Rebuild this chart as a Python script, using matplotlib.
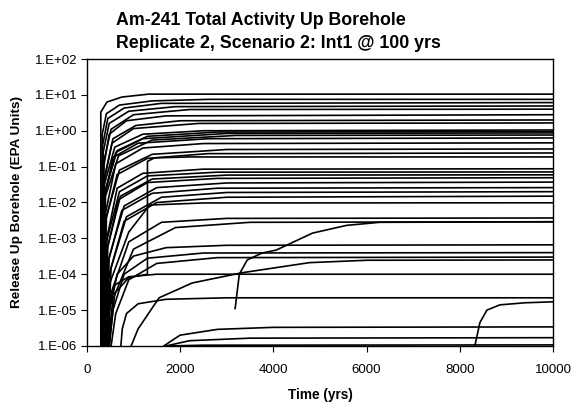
import matplotlib
matplotlib.use("Agg")
import matplotlib.pyplot as plt

plt.rcParams['font.family'] = ['Liberation Sans', 'DejaVu Sans']

title_lines = ["Am-241 Total Activity Up Borehole",
               "Replicate 2, Scenario 2: Int1 @ 100 yrs"]
x_label = "Time (yrs)"
y_label = "Release Up Borehole (EPA Units)"

x_ticks = [0, 2000, 4000, 6000, 8000, 10000]
y_ticks = [1e-6, 1e-5, 1e-4, 1e-3, 1e-2, 1e-1, 1e0, 1e1, 1e2]
y_tick_labels = ["1.E-06", "1.E-05", "1.E-04", "1.E-03", "1.E-02",
                 "1.E-01", "1.E+00", "1.E+01", "1.E+02"]

# each curve: (years, release values)
upper_curves = [
    ([300, 300, 430, 750, 1330, 10000], [1e-6, 3.3, 6.3, 8.7, 10.5, 10.5]),
    ([310, 330, 420, 700, 1400, 2600, 10000], [1e-6, 0.8, 3.0, 5.2, 6.8, 7.5, 7.5]),
    ([320, 340, 450, 800, 1600, 10000], [1e-6, 0.4, 2.2, 4.3, 5.8, 6.1]),
    ([330, 350, 480, 900, 1900, 10000], [1e-6, 0.25, 1.6, 3.5, 4.7, 4.9]),
    ([340, 370, 520, 1000, 2200, 10000], [1e-6, 0.15, 1.1, 2.8, 3.9, 4.0]),
    ([320, 350, 480, 850, 1700, 10000], [1e-6, 0.08, 0.8, 1.9, 2.6, 2.8]),
    ([350, 380, 560, 1050, 2000, 10000], [1e-6, 0.05, 0.6, 1.4, 1.9, 2.0]),
    ([330, 370, 540, 1000, 2400, 10000], [1e-6, 0.04, 0.45, 1.15, 1.6, 1.65]),
    ([340, 370, 600, 1200, 2500, 10000], [1e-6, 0.03, 0.35, 0.8, 1.0, 1.05]),
    ([360, 390, 650, 1300, 2800, 10000], [1e-6, 0.02, 0.28, 0.7, 0.92, 0.95]),
    ([350, 390, 620, 1200, 3000, 10000], [1e-6, 0.02, 0.25, 0.6, 0.84, 0.87]),
    ([370, 400, 680, 1400, 3200, 10000], [1e-6, 0.015, 0.2, 0.55, 0.74, 0.76]),
    ([330, 360, 560, 1100, 2600, 10000], [1e-6, 0.01, 0.18, 0.45, 0.6, 0.63]),
]

middle_curves = [
    ([360, 400, 620, 1200, 2500, 10000], [1e-6, 0.005, 0.12, 0.33, 0.44, 0.46]),
    ([380, 420, 700, 1400, 3000, 10000], [1e-6, 0.004, 0.08, 0.22, 0.30, 0.31]),
    ([350, 400, 650, 1300, 2600, 10000], [1e-6, 0.003, 0.06, 0.17, 0.23, 0.24]),
    ([480, 600, 900, 1300, 1300, 1450, 2200, 10000],
     [1e-6, 3e-5, 8e-5, 1e-4, 0.14, 0.175, 0.186, 0.186]),
    ([390, 430, 650, 1200, 2500, 10000], [1e-6, 1e-3, 0.025, 0.065, 0.085, 0.087]),
    ([370, 420, 700, 1300, 2800, 10000], [1e-6, 8e-4, 0.02, 0.055, 0.070, 0.071]),
    ([400, 450, 720, 1400, 3000, 10000], [1e-6, 6e-4, 0.015, 0.045, 0.058, 0.059]),
    ([360, 420, 680, 1300, 2800, 10000], [1e-6, 4e-4, 0.012, 0.036, 0.047, 0.049]),
    ([420, 480, 800, 1500, 3000, 10000], [1e-6, 3e-4, 0.008, 0.026, 0.035, 0.037]),
    ([380, 450, 750, 1400, 2800, 10000], [1e-6, 2e-4, 0.006, 0.018, 0.025, 0.026]),
    ([450, 520, 850, 1600, 3000, 10000], [1e-6, 1.5e-4, 0.004, 0.014, 0.019, 0.020]),
    ([400, 480, 800, 1500, 3000, 10000], [1e-6, 1e-4, 0.003, 0.010, 0.014, 0.015]),
    ([430, 500, 900, 1350, 2500, 10000], [1e-6, 6e-5, 0.0015, 0.0085, 0.0097, 0.0098]),
]

lower_curves = [
    ([420, 520, 900, 1600, 3000, 10000], [1e-6, 3e-5, 8e-4, 2.8e-3, 3.6e-3, 3.7e-3]),
    ([450, 560, 1000, 1900, 3500, 10000], [1e-6, 2e-5, 5e-4, 2e-3, 2.8e-3, 2.9e-3]),
    ([450, 490, 650, 1000, 1700, 3000, 10000],
     [1e-6, 1e-5, 1e-4, 3.2e-4, 5.5e-4, 6.4e-4, 6.6e-4]),
    ([480, 560, 800, 1300, 2500, 10000], [1e-6, 1e-5, 1e-4, 2.8e-4, 3.9e-4, 4.0e-4]),
    ([520, 620, 900, 1500, 2800, 10000], [1e-6, 8e-6, 7e-5, 2e-4, 2.9e-4, 3.0e-4]),
    ([950, 1100, 1550, 2260, 3330, 4770, 6000, 10000],
     [1e-6, 3e-6, 2.2e-5, 5.7e-5, 1.1e-4, 2.1e-4, 2.45e-4, 2.5e-4]),
    ([400, 450, 600, 900, 1500, 10000], [1e-6, 1e-5, 5e-5, 8.5e-5, 1e-4, 1e-4]),
    ([730, 760, 850, 1100, 1700, 3000, 10000],
     [1e-6, 3e-6, 8e-6, 1.5e-5, 2.0e-5, 2.2e-5, 2.2e-5]),
    ([1650, 2000, 2800, 4000, 10000], [1e-6, 2e-6, 2.9e-6, 3.3e-6, 3.4e-6]),
    ([1700, 2200, 3500, 10000], [1e-6, 1.4e-6, 1.65e-6, 1.7e-6]),
    ([1750, 2500, 10000], [1e-6, 1.05e-6, 1.07e-6]),
]

late_curves = [
    ([3180, 3270, 3440, 3760, 4060, 4840, 5570, 6280, 10000],
     [1.1e-5, 1e-4, 2.5e-4, 3.9e-4, 4.7e-4, 1.4e-3, 2.3e-3, 2.8e-3, 2.9e-3]),
    ([8320, 8430, 8580, 8860, 9400, 10000],
     [1e-6, 4.5e-6, 1e-5, 1.4e-5, 1.6e-5, 1.7e-5]),
]

fig = plt.figure(figsize=(5.75, 4.07), dpi=100)
ax = fig.add_axes([0.151, 0.150, 0.811, 0.705])

for group in (upper_curves, middle_curves, lower_curves, late_curves):
    for years, values in group:
        ax.plot(years, values, color='black', lw=1.2, solid_joinstyle='round')

ax.set_yscale('log')
ax.set_xlim(0, 10000)
ax.set_ylim(1e-6, 1e2)
ax.set_xticks(x_ticks)
ax.set_xticklabels([str(t) for t in x_ticks])
ax.set_yticks(y_ticks)
ax.set_yticklabels(y_tick_labels)
ax.minorticks_off()
ax.tick_params(direction='out', length=4, width=0.8, labelsize=9.5)
ax.tick_params(axis='x', pad=9)
ax.tick_params(axis='y', pad=3)
for s in ax.spines.values():
    s.set_linewidth(1.0)

ax.set_xlabel(x_label, fontsize=9.8, fontweight='bold')
ax.xaxis.set_label_coords(0.5, -0.145)
ax.set_ylabel(y_label, fontsize=9.7, fontweight='bold')
ax.yaxis.set_label_coords(-0.137, 0.5)

fig.text(0.2017, 0.9386, title_lines[0], ha='left', va='baseline',
         fontsize=12.8, fontweight='bold')
fig.text(0.2017, 0.882, title_lines[1], ha='left', va='baseline',
         fontsize=12.8, fontweight='bold')

fig.savefig("out.png", dpi=100)
